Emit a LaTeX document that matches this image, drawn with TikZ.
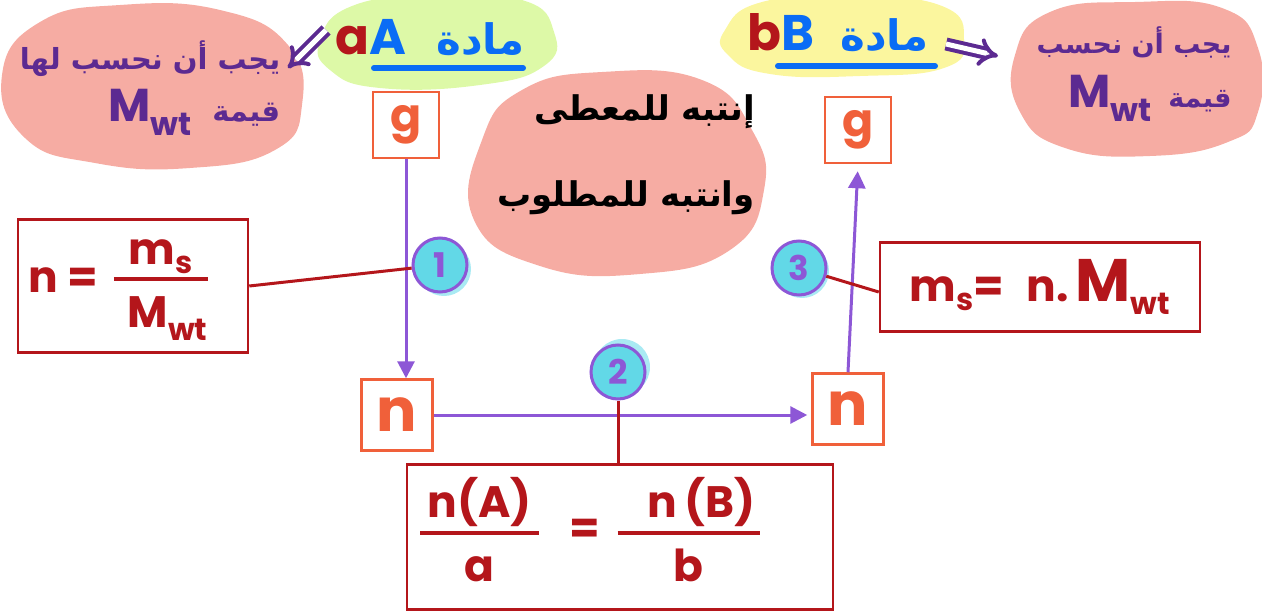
\documentclass[tikz,border=0pt]{standalone}
\usepackage{fontspec}
\setmainfont{Poppins}
\newfontfamily\arabicfont[Script=Arabic]{DejaVu Sans}
\TeXXeTstate=1
\definecolor{brick}{HTML}{B4161B}
\definecolor{tang}{HTML}{F0603A}
\definecolor{lilac}{HTML}{8D57D6}
\definecolor{aqua}{HTML}{62D8E7}
\definecolor{aqualt}{HTML}{A9EAF3}
\definecolor{salmon}{HTML}{F6ACA3}
\definecolor{lime}{HTML}{DDF9A7}
\definecolor{lemon}{HTML}{FBF69E}
\definecolor{azure}{HTML}{0A6CF5}
\definecolor{grape}{HTML}{5C2A91}
\usetikzlibrary{arrows.meta}
\newcommand{\frc}[2]{{\setlength{\arrayrulewidth}{4pt}\begin{tabular}{@{}c@{}}#1\\[-2pt]\hline\rule{0pt}{1.05em}#2\end{tabular}}}

\begin{document}
\begin{tikzpicture}[x=1pt, y=-1pt,
  gbox/.style={draw=tang, line width=2.5pt, minimum size=66pt, inner sep=0pt,
               text=tang, font=\fontsize{46}{46}\selectfont\bfseries},
  nbox/.style={gbox, minimum size=71pt, font=\fontsize{60}{60}\selectfont\bfseries},
  frm/.style={draw=brick, line width=2.5pt, inner sep=0pt, text=brick,
              font=\fontsize{44}{50}\selectfont\bfseries},
  num/.style={circle, draw=lilac, line width=3pt, fill=aqua, minimum size=54pt,
              inner sep=0pt, text=lilac, font=\fontsize{34}{34}\selectfont\bfseries},
  note/.style={align=right, text=grape, font=\arabicfont\fontsize{29}{52}\selectfont\bfseries},
  flow/.style={draw=lilac, line width=3pt, -{Triangle[length=17pt, width=17pt]}},
  tie/.style={draw=brick, line width=3pt},
  dbl/.style={draw=grape, double=white, double distance=5pt, line width=4pt, -{Implies[scale=0.8]}},
]
\useasboundingbox (0,0) rectangle (1262,613);

\fill[salmon] plot[smooth cycle, tension=0.8] coordinates
  {(2,75) (40,22) (120,5) (220,10) (288,45) (302,105) (275,150) (190,168) (95,163) (25,138)};
\fill[salmon] plot[smooth cycle, tension=0.8] coordinates
  {(1015,55) (1050,12) (1135,2) (1222,8) (1258,48) (1258,112) (1228,142) (1150,156) (1065,148) (1020,112)};
\fill[salmon] plot[smooth cycle, tension=0.8] coordinates
  {(482,140) (522,90) (602,72) (702,80) (752,130) (764,190) (730,250) (640,274) (540,266) (474,220)};
\fill[lime] plot[smooth cycle, tension=0.8] coordinates
  {(320,40) (352,6) (432,-4) (522,0) (554,32) (544,66) (480,85) (380,88) (330,70)};
\fill[lemon] plot[smooth cycle, tension=0.8] coordinates
  {(725,30) (762,2) (852,-4) (942,6) (964,40) (944,68) (860,76) (770,74) (728,55)};

\node[font=\fontsize{50}{50}\selectfont\bfseries] (matA) at (430,38)
  {\textcolor{brick}{a}\textcolor{azure}{A}\hspace{30pt}\textcolor{azure}{\arabicfont\fontsize{42}{42}\selectfont\beginR مادة\endR}};
\node[font=\fontsize{50}{50}\selectfont\bfseries] (matB) at (838,33)
  {\textcolor{brick}{b}\textcolor{azure}{B}\hspace{26pt}\textcolor{azure}{\arabicfont\fontsize{42}{42}\selectfont\beginR مادة\endR}};
\draw[azure, line width=6pt, line cap=round] (374,68) -- (523,68);
\draw[azure, line width=6pt, line cap=round] (778,66) -- (935,66);

\node[note] (noteL) at (150,88)
  {\beginR يجب أن نحسب لها\endR\\ \beginR قيمة\hspace{20pt}\beginL{\rmfamily\fontsize{46}{46}\selectfont M\textsubscript{wt}}\endL\endR};
\node[note, font=\arabicfont\fontsize{27}{54}\selectfont\bfseries] (noteR) at (1134,74)
  {\beginR يجب أن نحسب\endR\\ \beginR قيمة\hspace{16pt}\beginL{\rmfamily\fontsize{46}{46}\selectfont M\textsubscript{wt}}\endL\endR};
\node[note, text=black, font=\arabicfont\fontsize{34}{86}\selectfont\bfseries] (noteM) at (626,155)
  {\beginR إنتبه للمعطى\endR\\ \beginR وانتبه للمطلوب\endR};

\coordinate (tailL) at (326,30);
\coordinate (tipL) at (288,68);
\coordinate (tailR) at (946,44);
\coordinate (tipR) at (998,56);
\draw[dbl] (tailL) -- (tipL);
\draw[dbl] (tailR) -- (tipR);

\node[gbox] (gA) at (406,125) {g};
\node[gbox] (gB) at (858,130) {g};
\node[nbox] (nA) at (397,415) {n};
\node[nbox] (nB) at (848,409) {n};

\draw[flow] (gA.south) -- (gA.south |- nA.north);
\draw[flow, shorten >=4pt] (nA.east) -- (nA.east -| nB.west);
\draw[flow, shorten >=7pt] (nB.north) -- (gB.south);

\node[frm, minimum width=230pt, minimum height=133pt] (f1) at (133,286)
  {n =\hspace{16pt}\frc{m\textsubscript{s}}{\hspace*{14pt}M\textsubscript{wt}}\kern30pt};
\node[frm, minimum width=320pt, minimum height=89pt] (f3) at (1040,287)
  {m\textsubscript{s}=\hspace{22pt}n.\,{\fontsize{60}{60}\selectfont M}\textsubscript{wt}};
\node[frm, minimum width=426pt, minimum height=145pt] (f2) at (620,537)
  {\frc{\,n(A)\,}{a}\hspace{30pt}=\hspace{18pt}\frc{\hspace*{30pt}n\,(B)\kern4pt}{b}\kern60pt};

\fill[aqualt] (444,269) circle (27);
\fill[aqualt] (622,367) circle (28);
\fill[aqualt] (802,271) circle (27);
\node[num] (c1) at (440,265) {1};
\node[num] (c2) at (618,372) {2};
\node[num] (c3) at (799,268) {3};

\draw[tie] (f1.east) -- (c1);
\draw[tie] (c3) -- ([yshift=-5pt]f3.west);
\draw[tie] (c2.south) -- (c2.south |- f2.north);
\end{tikzpicture}
\end{document}
